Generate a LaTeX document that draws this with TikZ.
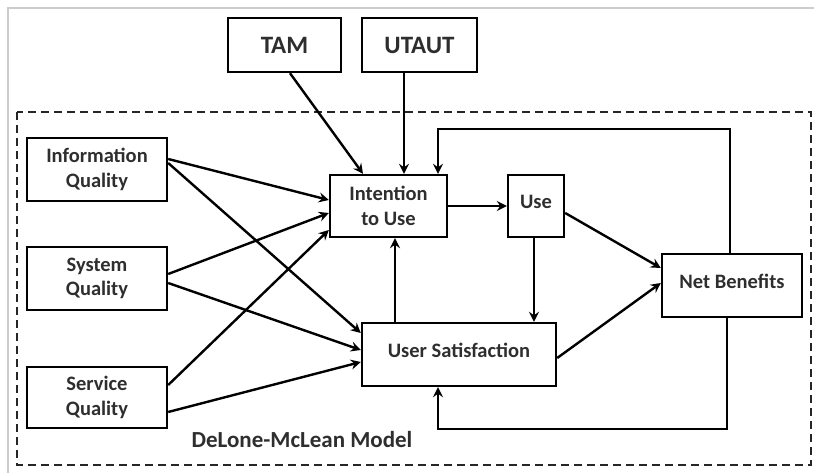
\documentclass[tikz,border=0pt]{standalone}
\usepackage{fontspec}
\setmainfont{Carlito}
\usetikzlibrary{arrows.meta}
\begin{document}
\begin{tikzpicture}[x=1pt,y=-1pt,
  box/.style={draw=black,line width=2.4pt,rectangle,inner sep=2pt,align=center,
    font=\fontsize{20.5}{24.5}\selectfont\bfseries,text=black!82},
  conn/.style={line width=2.4pt,-{Stealth[length=10pt,width=10pt,inset=3.5pt]}},
  frame/.style={draw=black!20,line width=2pt}]
\useasboundingbox (0,0) rectangle (814,473);
\draw[frame] (8,473) -- (8,8) -- (814,8);
\draw[line width=2.2pt,dash pattern=on 8pt off 5pt,draw=black!85] (17,112) rectangle (811,465);
\node[box,minimum width=113pt,minimum height=54pt] (tam) at (284.5,45) {\fontsize{25}{29}\selectfont TAM};
\node[box,minimum width=115pt,minimum height=54pt] (utaut) at (419.5,45) {\fontsize{25}{29}\selectfont UTAUT};
\node[box,minimum width=140pt,minimum height=63pt] (iq) at (97,169.5) {Information\\Quality};
\node[box,minimum width=140pt,minimum height=63pt] (sq) at (97,278.5) {System\\Quality};
\node[box,minimum width=140pt,minimum height=61pt] (svq) at (97,397.5) {Service\\Quality};
\node[box,minimum width=117pt,minimum height=62pt] (int) at (388.5,206) {Intention\\to Use};
\node[box,minimum width=56pt,minimum height=62pt] (use) at (536,206) {\raisebox{8pt}{Use}};
\node[box,minimum width=194pt,minimum height=63pt] (us) at (459,354.5) {\raisebox{8pt}{User Satisfaction}};
\node[box,minimum width=140pt,minimum height=63pt] (nb) at (732,285.5) {\raisebox{8pt}{Net Benefits}};
\node[font=\fontsize{23}{27}\selectfont\bfseries,text=black!82] (lbl) at (302,440) {DeLone-McLean Model};
% connectors
\draw[conn] ([yshift=10.5pt]iq.east) -- ([yshift=6pt]int.west);
\draw[conn] ([yshift=6.5pt]iq.east) -- ([yshift=21.5pt]us.west);
\draw[conn] ([yshift=4.5pt]sq.east) -- ([yshift=-7pt]int.west);
\draw[conn] ([yshift=-4.5pt]sq.east) -- ([yshift=4.5pt]us.west);
\draw[conn] ([yshift=12.5pt]svq.east) -- ([yshift=-24pt]int.west);
\draw[conn] ([yshift=-14.5pt]svq.east) -- ([yshift=-7.5pt]us.west);
\draw[conn] ([xshift=5.5pt]tam.south) -- ([xshift=-25.5pt]int.north);
\draw[conn] ([xshift=-15.5pt]utaut.south) -- ([xshift=15.5pt]int.north);
\draw[conn] (int.east) -- (use.west);
\draw[conn] ([xshift=-64pt]us.north) -- ([xshift=6.5pt]int.south);
\draw[conn] ([xshift=-2pt]use.south) -- ([xshift=75pt]us.north);
\draw[conn] ([yshift=-7pt]use.east) -- ([yshift=17.5pt]nb.west);
\draw[conn] ([yshift=-3.5pt]us.east) -- ([yshift=2.5pt]nb.west);
\draw[conn] ([xshift=-2pt]nb.north) |- ([xshift=49.5pt,yshift=45pt]int.north) -- ([xshift=49.5pt]int.north);
\draw[conn] ([xshift=-5pt]nb.south) |- ([xshift=-21pt,yshift=-42pt]us.south) -- ([xshift=-21pt]us.south);
\end{tikzpicture}
\end{document}
